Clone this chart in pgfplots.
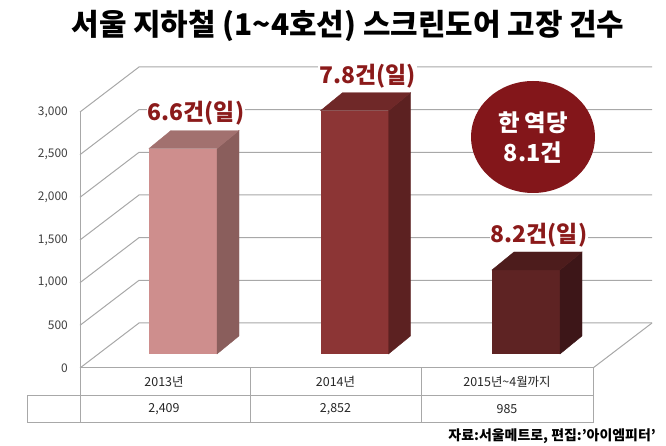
\documentclass[border=0pt]{standalone}
\usepackage{fontspec}
\setmainfont{Noto Sans CJK KR}
\usepackage{pgfplots}
\usepackage{pgfplotstable}
\pgfplotsset{compat=1.18}

% bar colours: front / side / top
\definecolor{front0}{HTML}{CE8E8D}
\definecolor{side0}{HTML}{8A5E5C}
\definecolor{top0}{HTML}{A2716F}
\definecolor{front1}{HTML}{8C3535}
\definecolor{side1}{HTML}{5C2121}
\definecolor{top1}{HTML}{6F2828}
\definecolor{front2}{HTML}{5E2323}
\definecolor{side2}{HTML}{3D1618}
\definecolor{top2}{HTML}{4D1C1C}
\definecolor{labred}{HTML}{8B1A1A}
\definecolor{circ}{HTML}{83161A}
\definecolor{gridc}{HTML}{A8A8A8}
\definecolor{tickc}{HTML}{404040}

\pgfdeclareplotmark{empty}{}

\pgfplotstableread{
x v lab cat
0 2409 6.6건(일) 2013년
1 2852 7.8건(일) 2014년
2 985 8.2건(일) 2015년\textasciitilde4월까지
}\faults

\begin{document}
\begin{tikzpicture}
\path[use as bounding box] (0,0) rectangle (666bp,446bp);

% walls, floor and table, in pixel units (y from the top)
\begin{scope}[x=1bp, y=-1bp, shift={(0,446bp)}]
  \foreach \k/\t in {0/0,1/500,2/{1,000},3/{1,500},4/{2,000},5/{2,500},6/{3,000}}{
    \pgfmathsetmacro\yf{368-\k*42.667}
    \draw[gridc, line width=1bp] (80,\yf) -- (139,\yf-45) -- (652,\yf-45);
    \node[anchor=east, text=tickc, font=\fontsize{12}{12}\selectfont, inner sep=0pt] at (68,\yf) {\t};
  }
  \draw[gridc, line width=1bp] (593,368) -- (652,323);
  \draw[gridc, line width=1bp] (80,112) -- (80,423);
  \draw[gridc, line width=1bp] (80,368) -- (593,368) -- (593,423) -- (27,423) -- (27,396) -- (593,396);
  \draw[gridc, line width=1bp] (250,368) -- (250,423) (421,368) -- (421,423);
\end{scope}

\begin{axis}[at={(0,0)}, anchor=south west, scale only axis,
  width=666bp, height=446bp, hide axis, clip=false,
  xmin=-1.06706, xmax=2.81633, ymin=-1078.55, ymax=4150.05,
  /pgf/number format/assume math mode=true]

% front faces
\addplot[ybar, bar width=0.3965, bar shift=0pt, fill=front0, draw=none,
  restrict expr to domain={\thisrow{x}}{-0.5:0.5}] table[x=x, y=v]{\faults};
\addplot[ybar, bar width=0.3965, bar shift=0pt, fill=front1, draw=none,
  restrict expr to domain={\thisrow{x}}{0.5:1.5}] table[x=x, y=v]{\faults};
\addplot[ybar, bar width=0.3965, bar shift=0pt, fill=front2, draw=none,
  restrict expr to domain={\thisrow{x}}{1.5:2.5}] table[x=x, y=v]{\faults};

% side and top faces, drawn from each bar's top
\addplot[scatter, only marks, mark=empty,
  visualization depends on={\thisrow{v} \as \val},
  visualization depends on={\thisrow{x} \as \idx},
  scatter/@pre marker code/.code={%
    \pgfmathtruncatemacro\i{round(\idx)}%
    \fill[side\i] (34bp,0pt) -- ++(22bp,18bp) -- ++(0pt,-\val*0.0853bp) -- ++(-22bp,-18bp) -- cycle;
    \fill[top\i] (-34bp,0pt) -- ++(22bp,18bp) -- ++(68bp,0pt) -- ++(-22bp,-18bp) -- cycle;
  },
  scatter/@post marker code/.code={}]
  table[x=x, y=v]{\faults};

% per-day labels above the bars
\addplot[only marks, mark=empty, nodes near coords, point meta=explicit symbolic,
  every node near coord/.style={anchor=center, xshift=13bp, yshift=35bp,
    font=\bfseries\fontsize{23}{23}\selectfont, text=labred, fill=white, inner sep=1bp}]
  table[x=x, y=v, meta=lab]{\faults};

% table: category names and counts
\addplot[only marks, mark=empty, nodes near coords, point meta=explicit symbolic,
  every node near coord/.style={anchor=center, xshift=-19bp,
    font=\fontsize{12.5}{12.5}\selectfont, text=black!85, inner sep=0pt}]
  table[x=x, y expr=-328.3, meta=cat]{\faults};
\addplot[only marks, mark=empty, nodes near coords, point meta=\thisrow{v},
  every node near coord/.style={anchor=center, xshift=-19bp,
    font=\fontsize{12.5}{12.5}\selectfont, text=black!85, inner sep=0pt}]
  table[x=x, y expr=-650.6]{\faults};
\end{axis}

\begin{scope}[x=1bp, y=-1bp, shift={(0,446bp)}]
  \fill[circ] (533,137) ellipse [x radius=62, y radius=56];
  \node[text=white, font=\bfseries\fontsize{23.5}{30}\selectfont, align=center] at (533,138)
    {한 역당\\8.1건};
  \node[font=\bfseries\fontsize{30}{30}\selectfont] at (348,26)
    {서울 지하철 (1\textasciitilde4호선) 스크린도어 고장 건수};
  \node[anchor=east, font=\bfseries\fontsize{14}{14}\selectfont, inner sep=0pt] at (656,436)
    {자료:서울메트로, 편집:'아이엠피터'};
\end{scope}
\end{tikzpicture}
\end{document}
